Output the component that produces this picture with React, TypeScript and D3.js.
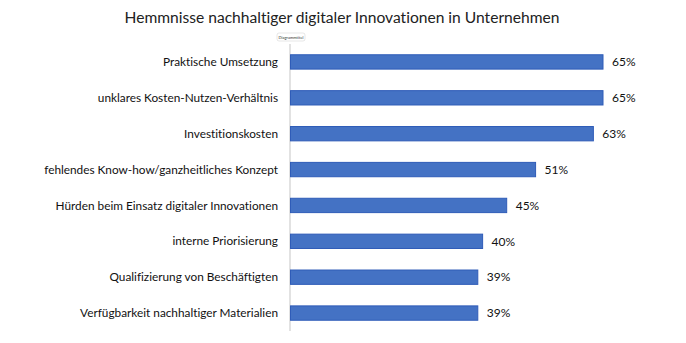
import React from "react";
import * as d3 from "d3";

const categories = [
  "Praktische Umsetzung",
  "unklares Kosten-Nutzen-Verhältnis",
  "Investitionskosten",
  "fehlendes Know-how/ganzheitliches Konzept",
  "Hürden beim Einsatz digitaler Innovationen",
  "interne Priorisierung",
  "Qualifizierung von Beschäftigten",
  "Verfügbarkeit nachhaltiger Materialien",
];
const values = [65, 65, 63, 51, 45, 40, 39, 39];
const title = "Hemmnisse nachhaltiger digitaler Innovationen in Unternehmen";

export default function App() {
  const W = 686, H = 343;
  const x0 = 290;
  const x = d3.scaleLinear().domain([0, 65]).range([x0, 603]);
  const y = d3.scaleBand().domain(categories).range([44, 331]).paddingInner(0.6).paddingOuter(0.3);
  const font = "Lato, 'Open Sans', sans-serif";
  const st = { fontVariantLigatures: "none" as const };
  return (
    <svg width={W} height={H} style={{ position: "absolute", left: 0, top: 0, background: "#fff" }}>
      <text x={342} y={23} textAnchor="middle" fontFamily={font} fontSize={15.6} fill="#222" style={st}>{title}</text>
      <rect x={277} y={33} width={28} height={8} rx={2} fill="#fff" stroke="#ccc" strokeWidth={0.5} />
      <text x={291} y={39} textAnchor="middle" fontFamily={font} fontSize={4} fill="#333" style={st}>Diagrammtitel</text>
      <line x1={x0} x2={x0} y1={44} y2={331} stroke="#d9d9d9" strokeWidth={1.5} />
      {categories.map((c, i) => {
        const yy = y(c)!;
        const bw = y.bandwidth();
        return (
          <g key={c}>
            <rect x={x0 + 0.5} y={yy} width={x(values[i]) - x0 - 0.5} height={bw} fill="#4472C4" stroke="#2F5CB8" strokeWidth={1} />
            <text x={278} y={yy + bw / 2} dy="0.35em" textAnchor="end" fontFamily={font} fontSize={11.8} fill="#111" style={st}>{c}</text>
            <text x={x(values[i]) + 9} y={yy + bw / 2} dy="0.35em" fontFamily={font} fontSize={12} fill="#111" style={st}>{values[i]}%</text>
          </g>
        );
      })}
    </svg>
  );
}
